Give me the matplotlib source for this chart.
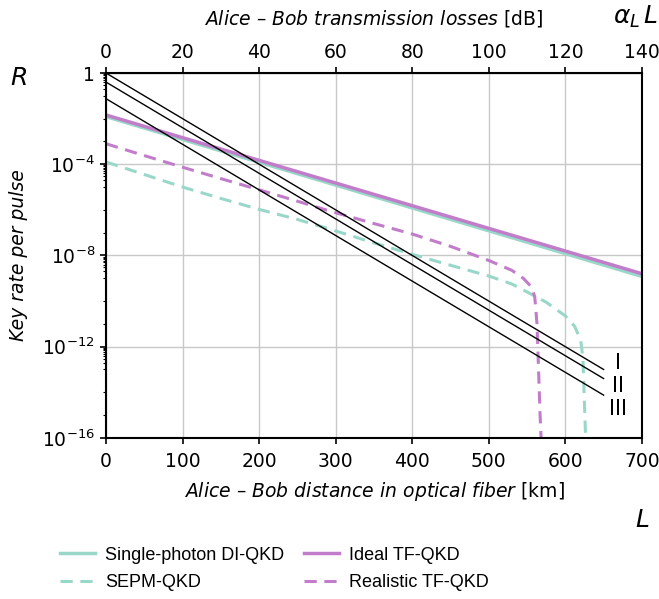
import matplotlib
matplotlib.use("Agg")
import matplotlib.pyplot as plt
import matplotlib.ticker as mticker
import numpy as np

# ---------------------------------------------------------------------------
# Data (x in km, y = key rate per pulse)
# ---------------------------------------------------------------------------
dist_ideal = [0, 700]
rate_ideal_tf = [10**-1.84, 10**-8.8]
rate_sp_di = [10**-1.91, 10**-8.92]

dist_sepm = [0, 50, 100, 150, 200, 250, 292, 350, 400, 450, 500, 530,
             550, 575, 600, 612, 620, 623, 625, 627]
rate_sepm = [10**-3.9, 10**-4.45, 10**-5.0, 10**-5.5, 10**-5.98, 10**-6.42,
             10**-6.84, 10**-7.45, 10**-7.95, 10**-8.43, 10**-8.9, 10**-9.25,
             10**-9.6, 10**-10.05, 10**-10.65, 10**-11.1, 10**-11.7,
             10**-12.5, 10**-14.5, 10**-16.5]

dist_real_tf = [0, 50, 100, 150, 200, 250, 292, 350, 400, 450, 500, 530,
                545, 555, 560, 563, 565, 567, 569]
rate_real_tf = [10**-3.1, 10**-3.62, 10**-4.13, 10**-4.63, 10**-5.12,
                10**-5.62, 10**-6.05, 10**-6.6, 10**-7.06, 10**-7.6,
                10**-8.22, 10**-8.65, 10**-9.0, 10**-9.35, 10**-9.8,
                10**-11.0, 10**-13.0, 10**-15.0, 10**-16.5]

dist_bounds = [0, 650]
bound_I = [1.0, 1e-13]
bound_II = [0.4, 0.4e-13]
bound_III = [0.075, 0.075e-13]
bound_labels = ["I", "II", "III"]
bound_label_y = [10**-12.73, 10**-13.74, 10**-14.75]

y_ticks = [1e-16, 1e-12, 1e-8, 1e-4, 1]
y_tick_labels = [r"$10^{-16}$", r"$10^{-12}$", r"$10^{-8}$", r"$10^{-4}$", "1"]

_TEAL = "#99d8c9"
_PURPLE = "#c17dca"
_FS = 13.5

plt.rcParams.update({
    "font.family": "DejaVu Sans",
    "font.size": _FS,
})

fig = plt.figure(figsize=(6.59, 5.99), dpi=100)
ax = fig.add_axes([0.161, 0.269, 0.813, 0.609])

ax.semilogy(dist_ideal, rate_sp_di, color=_TEAL, lw=2.5,
            label="Single-photon DI-QKD")
ax.semilogy(dist_sepm, rate_sepm, color=_TEAL, lw=2.2, ls=(0, (4, 2.5)),
            label="SEPM-QKD")
ax.semilogy(dist_ideal, rate_ideal_tf, color=_PURPLE, lw=2.5,
            label="Ideal TF-QKD")
ax.semilogy(dist_real_tf, rate_real_tf, color=_PURPLE, lw=2.2,
            ls=(0, (4, 2.5)), label="Realistic TF-QKD")

for b in (bound_I, bound_II, bound_III):
    ax.semilogy(dist_bounds, b, color="black", lw=1)

# Roman numeral labels to the right of the bound lines
for lab, yy in zip(bound_labels, bound_label_y):
    ax.text(669, yy, lab, ha="center", va="center", fontsize=15)

ax.set_xlim(0, 700)
ax.set_ylim(1e-16, 1)
ax.set_xticks(range(0, 701, 100))
ax.yaxis.set_major_locator(mticker.FixedLocator(y_ticks))
ax.yaxis.set_major_formatter(mticker.FixedFormatter(y_tick_labels))

# minor ticks: a 2..9 cluster under each labelled decade, then plain decades
minor = []
for k in (0, -4, -8, -12):
    minor += [m * 10.0**(k - 1) for m in range(2, 10)]
    minor += [10.0**(k - j) for j in (1, 2, 3)]
ax.yaxis.set_minor_locator(mticker.FixedLocator(minor))
ax.yaxis.set_minor_formatter(mticker.NullFormatter())

ax.tick_params(axis="both", which="major", length=4.5, width=1.2,
               labelsize=_FS)
ax.tick_params(axis="x", which="major", pad=5.5)
ax.tick_params(axis="y", which="minor", length=2.5, width=0.8)
ax.grid(True, which="major", color="#c8c8c8", lw=1)
for s in ax.spines.values():
    s.set_linewidth(1.5)

ax.set_xlabel(r"$\it{Alice\ –\ Bob\ distance\ in\ optical\ fiber}$ [km]",
              fontsize=_FS, labelpad=7)
ax.set_ylabel("Key rate per pulse", fontsize=_FS, style="italic", labelpad=10)

sec = ax.secondary_xaxis("top", functions=(lambda d: d * 0.2,
                                           lambda a: a / 0.2))
sec.set_xticks(range(0, 141, 20))
sec.tick_params(length=4.5, width=1.2, labelsize=_FS)
sec.set_xlabel(r"$\it{Alice\ –\ Bob\ transmission\ losses}$ [dB]",
               fontsize=_FS, labelpad=13)

fig.text(0.015, 0.870, r"$R$", fontsize=18, ha="left", va="center")
fig.text(0.965, 0.972, r"$\alpha_L\,L$", fontsize=18, ha="center",
         va="center")
fig.text(0.974, 0.132, r"$L$", fontsize=18, ha="center", va="center")

fig.legend(loc="center left", bbox_to_anchor=(0.080, 0.05), ncol=2,
           frameon=False, borderaxespad=0,
           prop={"family": "Liberation Sans", "size": 13},
           handlelength=1.95, handletextpad=0.55, columnspacing=1.1,
           labelspacing=0.6)

fig.savefig("out.png", dpi=100)
